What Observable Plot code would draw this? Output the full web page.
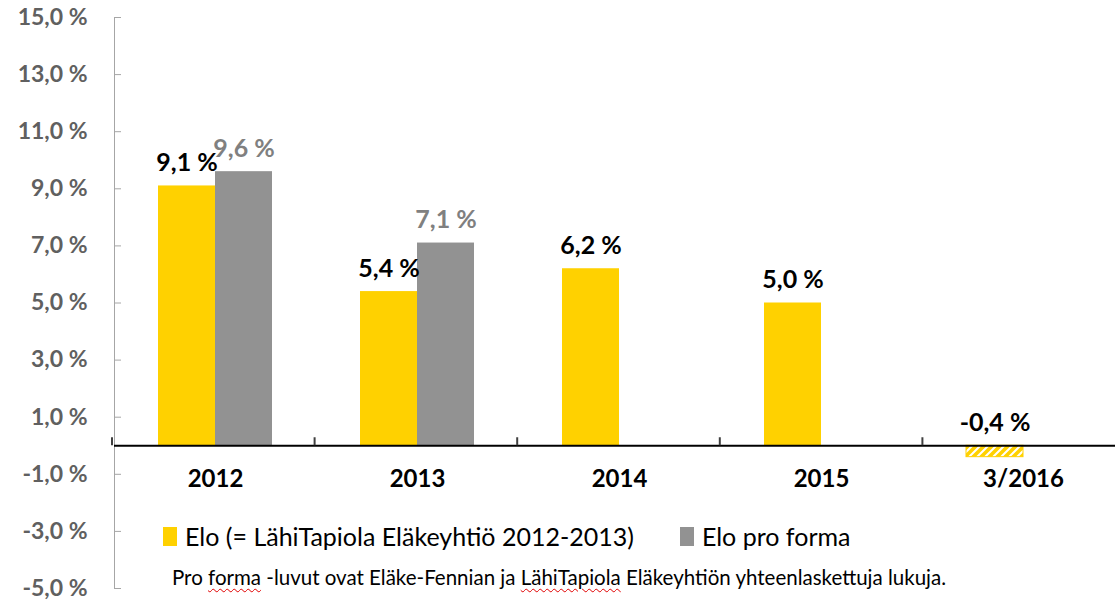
<!DOCTYPE html>
<html><head><meta charset="utf-8">
<script src="https://cdn.jsdelivr.net/npm/d3@7"></script>
<script src="https://cdn.jsdelivr.net/npm/@observablehq/plot@0.6"></script>
<style>
body{margin:0;background:#fff;overflow:hidden;}
#wrap{position:relative;width:1115px;height:601px;overflow:hidden;font-family:Lato,"Open Sans",sans-serif;}
#wrap svg{max-width:none !important;}
#legend{position:absolute;left:163px;top:521px;font-size:25px;color:#000;display:flex;align-items:center;white-space:nowrap;}
#legend .sw{display:inline-block;width:14px;height:19px;margin-right:8px;}
#caption{position:absolute;left:172px;top:565px;font-size:20.5px;color:#000;white-space:nowrap;}
.sp{text-decoration:underline wavy #e00000;text-decoration-thickness:1px;text-underline-offset:3px;}
</style></head><body><div id="wrap"></div>
<script>
// ---- data ----
const years = ["2012", "2013", "2014", "2015", "3/2016"];
const eloValues = [9.1, 5.4, 6.2, 5.0, -0.4];
const proFormaValues = [9.6, 7.1, null, null, null];
const preliminary = [false, false, false, false, true];
const seriesKeys = ["elo", "pro"];
const seriesNames = ["Elo (= LähiTapiola Eläkeyhtiö 2012-2013)", "Elo pro forma"];
const seriesColors = ["#FFD100", "#929292"];
const labelColors = ["#000000", "#808080"];
const yTicks = [15, 13, 11, 9, 7, 5, 3, 1, -1, -3, -5];
const captionText = "Pro forma -luvut ovat Eläke-Fennian ja LähiTapiola Eläkeyhtiön yhteenlaskettuja lukuja.";

const rows = [];
years.forEach((y, i) => {
  if (eloValues[i] != null) rows.push({year: y, series: "elo", value: eloValues[i], prelim: preliminary[i]});
  if (proFormaValues[i] != null) rows.push({year: y, series: "pro", value: proFormaValues[i], prelim: false});
});
const fmt = v => d3.format(".1f")(v).replace(".", ",").replace("−", "-") + " %";
const colorOf = d => d.prelim ? "url(#hatch)" : seriesColors[seriesKeys.indexOf(d.series)];

const plot = Plot.plot({
  width: 1125, height: 601,
  marginTop: 17, marginBottom: 13, marginLeft: 112, marginRight: 0,
  style: {fontFamily: "Lato, 'Open Sans', sans-serif", background: "white", overflow: "visible", maxWidth: "none"},
  fx: {domain: years, padding: 0, axis: null},
  x: {domain: seriesKeys, paddingInner: 0, paddingOuter: 0.746, axis: null},
  y: {domain: [-5, 15], axis: null, label: null},
  color: {type: "identity"},
  marks: [
    Plot.frame({anchor: "left", stroke: "#a6a6a6", facetAnchor: "left"}),
    Plot.axisY({ticks: yTicks, text: null, label: null, tickSize: -7, stroke: "#a6a6a6", anchor: "left"}),
    Plot.axisY({ticks: yTicks, tickFormat: fmt, label: null, tickSize: 0, tickPadding: 27, anchor: "left",
      fontSize: 23, fontWeight: "bold", fill: "#606060"}),
    Plot.barY(rows, {fx: "year", x: "series", y: "value", fill: colorOf,
      stroke: d => d.prelim ? seriesColors[0] : "none", strokeWidth: 1}),
    Plot.ruleY([0], {stroke: "#000", strokeWidth: 2}),
    Plot.text(rows, {fx: "year", x: "series", y: d => Math.max(0, d.value), text: d => fmt(d.value),
      fill: d => labelColors[seriesKeys.indexOf(d.series)], fontSize: 25, fontWeight: "bold",
      lineAnchor: "bottom", dy: -15}),
    Plot.text(years, {fx: d => d, y: () => 0, text: d => d, fontSize: 24, fontWeight: "bold",
      fill: "#000", lineAnchor: "top", dy: 24})
  ]
});
plot.style.maxWidth = "none";

// hatch pattern + category boundary ticks on the zero line
const svg = d3.select(plot);
const defs = svg.insert("defs", ":first-child");
const pat = defs.append("pattern").attr("id", "hatch").attr("patternUnits", "userSpaceOnUse")
  .attr("width", 8).attr("height", 8);
pat.append("rect").attr("width", 8).attr("height", 8).attr("fill", seriesColors[0]);
pat.append("path").attr("d", "M-2,10 L10,-2 M-2,2 L2,-2 M6,10 L10,6").attr("stroke", "#fff").attr("stroke-width", 2);

const fxd = plot.scale("fx"), yd = plot.scale("y");
const fx = d3.scaleBand().domain(fxd.domain).range(fxd.range).paddingInner(0).paddingOuter(0);
const ys = d3.scaleLinear().domain(yd.domain).range(yd.range);
const bounds = years.map(y => fx(y)).concat([fx(years[years.length - 1]) + fx.bandwidth()]);
svg.append("g").selectAll("line").data(bounds).join("line")
  .attr("x1", d => d).attr("x2", d => d).attr("y1", ys(0)).attr("y2", ys(0) - 8)
  .attr("stroke", "#404040").attr("stroke-width", 2);

const wrap = document.getElementById("wrap");
wrap.appendChild(plot);

const legend = d3.select(wrap).append("div").attr("id", "legend");
seriesNames.forEach((name, i) => {
  const item = legend.append("span").style("display", "inline-flex").style("align-items", "center")
    .style("margin-right", i === 0 ? "46px" : "0");
  item.append("span").attr("class", "sw").style("background", seriesColors[i]);
  item.append("span").text(name);
});
const cap = d3.select(wrap).append("div").attr("id", "caption");
const marked = ["forma", "LähiTapiola"];
let rest = captionText;
marked.forEach(w => {
  const k = rest.indexOf(w);
  cap.append("span").text(rest.slice(0, k));
  cap.append("span").attr("class", "sp").text(w);
  rest = rest.slice(k + w.length);
});
cap.append("span").text(rest);
</script>
</body></html>
